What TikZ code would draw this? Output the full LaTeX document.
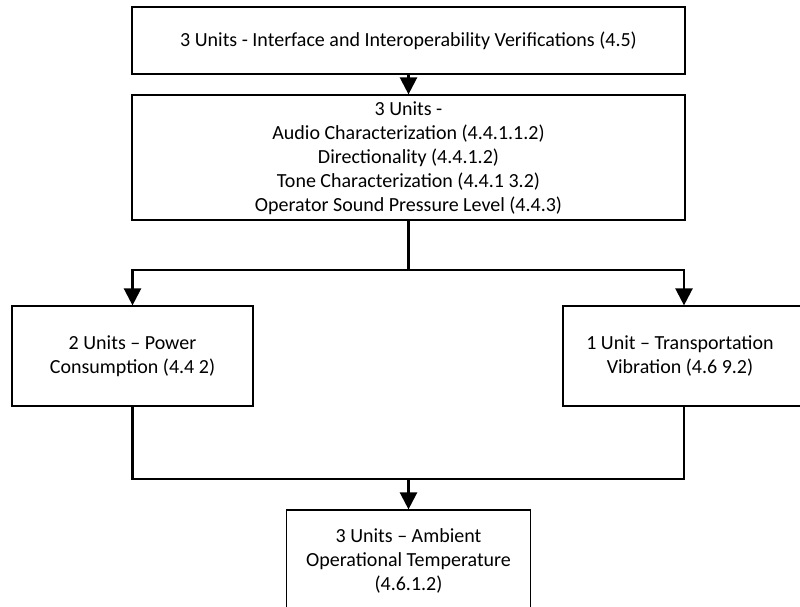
\documentclass[tikz,border=0pt]{standalone}
\usepackage{fontspec}
\setmainfont{Carlito}
\usetikzlibrary{arrows.meta}
\tikzset{
  txt/.style={font=\fontsize{20}{24}\selectfont, align=center},
  box/.style={draw=black, line width=1.2pt, fill=white, align=center, inner sep=0pt, txt},
  conn/.style={draw=black, line width=2.4pt},
  arr/.style={conn, -{Triangle[width=17pt,length=17pt]}}
}
\begin{document}
\begin{tikzpicture}[x=1pt,y=-1pt]
\clip (0,0) rectangle (800,607);
\fill[white] (0,0) rectangle (800,607);
\node[box, minimum width=553pt, minimum height=67pt] (top) at (408.5,40.5)
  {3 Units - Interface and Interoperability Verifications (4.5)};
\node[box, minimum width=553pt, minimum height=125pt] (mid) at (408.5,157.5) {};
\node[txt] (midtext) at (408.5,158.5)
  {3 Units -\\Audio Characterization (4.4.1.1.2)\\Directionality (4.4.1.2)\\Tone Characterization (4.4.1 3.2)\\Operator Sound Pressure Level (4.4.3)};
\node[box, minimum width=241pt, minimum height=100pt] (left) at (132.5,356)
  {2 Units -- Power\\Consumption (4.4 2)};
\node[box, minimum width=242pt, minimum height=100pt] (right) at (684,356)
  {};
\node[txt] (rtext) at (680,356)
  {1 Unit -- Transportation\\Vibration (4.6 9.2)};
\node[box, minimum width=244pt, minimum height=110pt] (bot) at (408.5,565)
  {};
\node[txt] (btext) at (408.5,561)
  {3 Units -- Ambient\\Operational Temperature\\(4.6.1.2)};
\coordinate (split) at (408.5,270);
\coordinate (join) at (408.5,479);
\draw[arr] (top.south) -- (mid.north);
\draw[conn] (mid.south) -- (split);
\draw[arr] (split) -| (left.north);
\draw[arr] (split) -| (right.north);
\draw[conn] (left.south) |- (join);
\draw[conn] (right.south) |- (join);
\draw[arr] (join) -- (bot.north);
\end{tikzpicture}
\end{document}
